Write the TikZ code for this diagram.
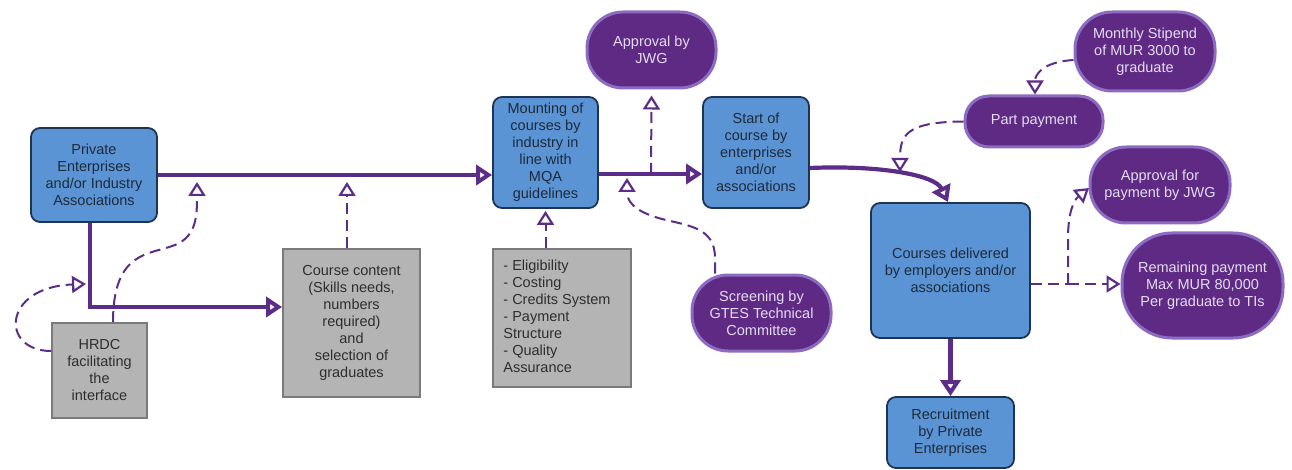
\documentclass[tikz,border=0pt]{standalone}
\usepackage{fontspec}
\setmainfont{Liberation Sans}
\usetikzlibrary{arrows.meta}
\definecolor{flow}{HTML}{5C2D87}
\definecolor{boxblue}{HTML}{5B94D4}
\definecolor{boxedge}{HTML}{1F3452}
\definecolor{pillfill}{HTML}{5E2A84}
\definecolor{pilledge}{HTML}{8C6CC2}
\definecolor{pilltext}{HTML}{E4DDF2}
\definecolor{greyfill}{HTML}{B4B4B4}
\definecolor{greyedge}{HTML}{7A7A7A}
\definecolor{darktext}{HTML}{1E2A3A}
\definecolor{greytext}{HTML}{2E2E2E}
\begin{document}
\begin{tikzpicture}[x=1pt,y=-1pt,
  every node/.style={font=\fontsize{14.5}{17}\selectfont, inner sep=0pt, align=center},
  bluebox/.style={draw=boxedge, line width=1.8pt, fill=boxblue, rounded corners=9pt, text=darktext},
  greybox/.style={draw=greyedge, line width=1.8pt, fill=greyfill, text=greytext},
  pill/.style={draw=pilledge, line width=3pt, fill=pillfill, text=pilltext},
  mainflow/.style={draw=flow, line width=4.2pt, -{Triangle[open,length=16pt,width=20pt,line width=4pt]}},
  sideflow/.style={draw=flow, line width=2pt, dash pattern=on 11pt off 6pt, -{Triangle[open,length=14pt,width=17pt,line width=2.2pt]}}
]
\useasboundingbox (0,0) rectangle (1292,470);

% boxes
\node[bluebox, minimum width=126pt, minimum height=94pt] (priv) at (94,175)
  {Private\\Enterprises\\and/or Industry\\Associations};
\node[greybox, minimum width=95pt, minimum height=95pt] (hrdc) at (99.5,370.5)
  {HRDC\\facilitating\\the\\interface};
\node[greybox, minimum width=137pt, minimum height=148pt] (course) at (351.5,323)
  {Course content\\(Skills needs,\\numbers\\required)\\and\\selection of\\graduates};
\node[bluebox, minimum width=105pt, minimum height=111pt] (mount) at (545.5,152.5)
  {Mounting of\\courses by\\industry in\\line with\\MQA\\guidelines};
\node[greybox, minimum width=138pt, minimum height=138pt] (elig) at (562,318)
  {\begin{tabular}{@{}l@{}}- Eligibility\\- Costing\\- Credits System\\- Payment\\Structure\\- Quality\\Assurance\end{tabular}\hspace*{10pt}};
\node[bluebox, minimum width=106pt, minimum height=111pt] (start) at (756,152.5)
  {Start of\\course by\\enterprises\\and/or\\associations};
\node[bluebox, minimum width=159pt, minimum height=135pt] (deliv) at (950.5,270.5)
  {Courses delivered\\by employers and/or\\associations};
\node[bluebox, minimum width=127pt, minimum height=71pt] (recruit) at (950.5,432.5)
  {Recruitment\\by Private\\Enterprises};

% rounded callouts
\node[pill, rounded corners=36pt, minimum width=129pt, minimum height=76pt] (jwg) at (651.5,50)
  {Approval by\\JWG};
\node[pill, rounded corners=36pt, minimum width=139pt, minimum height=76pt] (screen) at (761.5,313)
  {Screening by\\GTES Technical\\Committee};
\node[pill, rounded corners=37pt, minimum width=140pt, minimum height=79pt] (stipend) at (1145,51.5)
  {Monthly Stipend\\of MUR 3000 to\\graduate};
\node[pill, rounded corners=24pt, minimum width=138pt, minimum height=51pt] (part) at (1034,121.5)
  {Part payment};
\node[pill, rounded corners=36pt, minimum width=140pt, minimum height=76pt] (apppay) at (1160,185)
  {Approval for\\payment by JWG};
\node[pill, rounded corners=50pt, minimum width=161pt, minimum height=105pt] (remain) at (1202.5,285.5)
  {Remaining payment\\Max MUR 80,000\\Per graduate to TIs};

% junction points on the flow lines
\coordinate (bend) at (90,307);
\coordinate (jn) at (651,174);
\coordinate (split) at (1068,284);

% main flow
\draw[mainflow] (priv.east) -- (priv.east -| mount.west);
\draw[mainflow] (priv.south -| bend) -- (bend) -- (course.west |- bend);
\draw[mainflow] (mount.east |- jn) -- (start.west |- jn);
\draw[mainflow] (start.east |- 0,168) .. controls (880,165) and (935,175) .. (deliv.north -| 948,0);
\draw[mainflow] (deliv.south) -- (recruit.north);

% supporting links
\draw[sideflow] (hrdc.west |- 0,351) .. controls (0,351) and (2,287) .. (86,284);
\draw[sideflow] (hrdc.north -| 113,0) .. controls (113,250) and (150,255) .. (175,245)
  .. controls (197,236) and (197,215) .. (197,182);
\draw[sideflow] (course.north -| 347,0) -- (347,182);
\draw[sideflow] (elig.north -| mount.south) -- ([yshift=-2pt]mount.south);
\draw[sideflow] (jn) -- ([yshift=-6pt]jwg.south);
\draw[sideflow] (screen.north -| 715,0) -- (715,258) .. controls (715,228) and (690,226) .. (662,219)
  .. controls (632,211) and (627,200) .. (627,178);
\draw[sideflow] (stipend.west |- 0,60) .. controls (1042,62) and (1035,75) .. (part.north -| 1035,0);
\draw[sideflow] (part.west) .. controls (906,122) and (900,135) .. (900,172);
\draw[sideflow, -] (deliv.east |- split) -- (split);
\draw[sideflow] (split) -- (1068,238) .. controls (1068,212) and (1074,200) .. (1089,188);
\draw[sideflow] (split) -- (remain.west |- split);
\end{tikzpicture}
\end{document}
